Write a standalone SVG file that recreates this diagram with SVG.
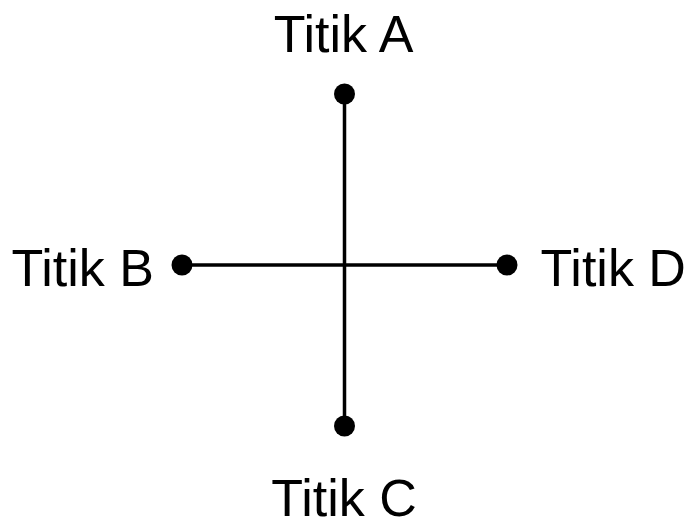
<svg xmlns="http://www.w3.org/2000/svg" width="684" height="521" viewBox="0 0 684 521">
<style>
.lbl{font-family:"Liberation Sans",Arial,sans-serif;font-size:52px;fill:#000}
.ln{stroke:#000;stroke-width:3.5;fill:none}
.dot{fill:#000}
</style>
<rect width="684" height="521" fill="#fff"/>
<g id="connectors">
<line class="ln" x1="344.5" y1="94" x2="344.5" y2="426"/>
<line class="ln" x1="182" y1="265" x2="507" y2="265"/>
</g>
<g id="A"><circle class="dot" cx="344.5" cy="94" r="10.5"/><text class="lbl" x="343.5" y="52" text-anchor="middle">Titik A</text></g>
<g id="B"><circle class="dot" cx="182" cy="265" r="10.5"/><text class="lbl" x="154" y="286" text-anchor="end">Titik B</text></g>
<g id="D"><circle class="dot" cx="507" cy="265" r="10.5"/><text class="lbl" x="540.5" y="286">Titik D</text></g>
<g id="C"><circle class="dot" cx="344.5" cy="426" r="10.5"/><text class="lbl" x="344" y="516" text-anchor="middle">Titik C</text></g>
</svg>
